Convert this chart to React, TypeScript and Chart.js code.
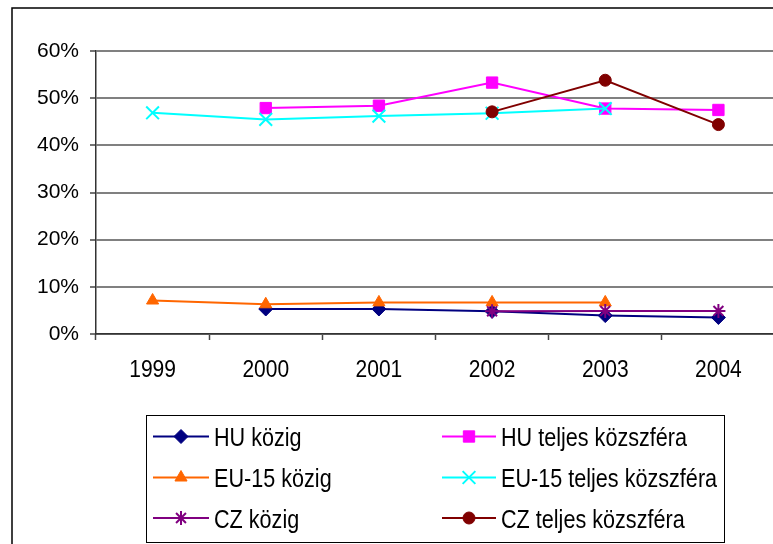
import React, { useEffect, useRef } from 'react';
import { Chart, registerables } from 'chart.js';
import { drawPoint } from 'chart.js/helpers';

Chart.register(...registerables);

const years = ['1999', '2000', '2001', '2002', '2003', '2004'];
const huKozig = [null, 5.3, 5.3, 4.8, 3.9, 3.5];
const huTeljes = [null, 47.9, 48.4, 53.3, 47.8, 47.5];
const euKozig = [7.1, 6.3, 6.7, 6.7, 6.7, null];
const euTeljes = [46.9, 45.5, 46.2, 46.8, 47.8, null];
const czKozig = [null, null, null, 4.8, 4.9, 4.9];
const czTeljes = [null, null, null, 47.1, 53.8, 44.4];
const seriesNames = [
  'HU közig',
  'HU teljes közszféra',
  'EU-15 közig',
  'EU-15 teljes közszféra',
  'CZ közig',
  'CZ teljes közszféra',
];
const yMin = 0;
const yMax = 60;
const yStep = 10;

const FONT = '"Liberation Sans", Arial, sans-serif';

const styles = [
  { color: '#000080', pointStyle: 'rectRot', radius: 7, bw: 1 },
  { color: '#FF00FF', pointStyle: 'rect', radius: 8, bw: 1 },
  { color: '#FF6600', pointStyle: 'triangle', radius: 7, bw: 1 },
  { color: '#00FFFF', pointStyle: 'crossRot', radius: 9, bw: 2 },
  { color: '#800080', pointStyle: 'star', radius: 7, bw: 2 },
  { color: '#800000', pointStyle: 'circle', radius: 6, bw: 1 },
];

const seriesData = [huKozig, huTeljes, euKozig, euTeljes, czKozig, czTeljes];

function drawScaledText(
  ctx: CanvasRenderingContext2D,
  text: string,
  x: number,
  capCenterY: number,
  size: number,
  sx: number,
  sy: number,
  align: CanvasTextAlign
) {
  ctx.save();
  ctx.translate(x, capCenterY + 0.358 * size * sy);
  ctx.scale(sx, sy);
  ctx.font = size + 'px ' + FONT;
  ctx.textAlign = align;
  ctx.textBaseline = 'alphabetic';
  ctx.fillStyle = '#000000';
  ctx.fillText(text, 0, 0);
  ctx.restore();
}

const frameAndLegend = {
  id: 'frameAndLegend',
  beforeDraw(chart: any) {
    const ctx = chart.ctx;
    ctx.save();
    ctx.fillStyle = '#ffffff';
    ctx.fillRect(0, 0, chart.width, chart.height);
    ctx.restore();
  },
  afterDraw(chart: any) {
    const ctx = chart.ctx;
    ctx.save();
    // outer frame
    ctx.strokeStyle = '#000000';
    ctx.lineWidth = 1.5;
    ctx.strokeRect(12, 8, chart.width + 20, chart.height + 20);

    // x category labels
    const xs = chart.scales.x;
    (chart.data.labels as string[]).forEach((lab: string, i: number) => {
      drawScaledText(ctx, lab, xs.getPixelForValue(i), 368, 21, 1, 1.15, 'center');
    });

    // legend box
    ctx.lineWidth = 1;
    ctx.strokeStyle = '#000000';
    ctx.strokeRect(146.5, 415.5, 578, 127);
    const rows = [436.5, 477.5, 518];
    const cols = [
      { x0: 153, x1: 209, mx: 181, tx: 214 },
      { x0: 442, x1: 496, mx: 469, tx: 501 },
    ];
    chart.data.datasets.forEach((ds: any, i: number) => {
      const r = rows[Math.floor(i / 2)];
      const c = cols[i % 2];
      const st = styles[i];
      ctx.strokeStyle = st.color;
      ctx.lineWidth = 2;
      ctx.beginPath();
      ctx.moveTo(c.x0, r);
      ctx.lineTo(c.x1, r);
      ctx.stroke();
      ctx.fillStyle = st.color;
      ctx.strokeStyle = st.color;
      ctx.lineWidth = st.bw;
      drawPoint(ctx, { pointStyle: st.pointStyle, radius: st.radius, rotation: 0, borderWidth: st.bw }, c.mx, r);
      drawScaledText(ctx, ds.label, c.tx, r + 0.5, 20, 1.08, 1.3, 'left');
    });
    ctx.restore();
  },
};

export default function App() {
  const ref = useRef<HTMLCanvasElement | null>(null);
  useEffect(() => {
    if (!ref.current) return;
    const chart = new Chart(ref.current, {
      type: 'line',
      data: {
        labels: years,
        datasets: seriesData.map((d, i) => ({
          label: seriesNames[i],
          data: d,
          borderColor: styles[i].color,
          backgroundColor: styles[i].color,
          pointBackgroundColor: styles[i].color,
          pointBorderColor: styles[i].color,
          pointStyle: styles[i].pointStyle as any,
          pointRadius: styles[i].radius,
          pointBorderWidth: styles[i].bw,
          borderWidth: 2,
          tension: 0,
          fill: false,
          order: seriesData.length - i,
        })),
      },
      options: {
        animation: false,
        responsive: false,
        events: [],
        layout: { padding: { top: 51, right: 15, left: 0, bottom: 0 } },
        plugins: {
          legend: { display: false },
          tooltip: { enabled: false },
          title: { display: false },
        },
        scales: {
          x: {
            type: 'category',
            offset: true,
            afterFit: (s: any) => {
              s.height = 210;
            },
            grid: {
              display: true,
              offset: true,
              drawOnChartArea: false,
              drawTicks: true,
              tickLength: 6,
              tickColor: '#444444',
              tickWidth: 1.5,
            },
            border: { display: true, color: '#333333', width: 1.5 },
            ticks: {
              display: false,
            },
          },
          y: {
            min: yMin,
            max: yMax,
            afterFit: (s: any) => {
              s.width = 96;
            },
            grid: {
              color: '#808080',
              lineWidth: 2,
              drawTicks: true,
              tickLength: 6,
              tickColor: '#444444',
              tickWidth: 1.5,
            },
            border: { display: true, color: '#333333', width: 1.5 },
            ticks: {
              stepSize: yStep,
              color: '#000000',
              font: { family: FONT, size: 21 },
              padding: 11,
              callback: (v: any) => v + '%',
            },
          },
        },
      },
      plugins: [frameAndLegend],
    });
    return () => chart.destroy();
  }, []);
  return (
    <div
      style={{
        position: 'absolute',
        left: 0,
        top: 0,
        width: 773,
        height: 544,
        overflow: 'hidden',
        background: '#ffffff',
      }}
    >
      <canvas ref={ref} width={790} height={544} style={{ display: 'block', width: 790, height: 544 }} />
    </div>
  );
}
